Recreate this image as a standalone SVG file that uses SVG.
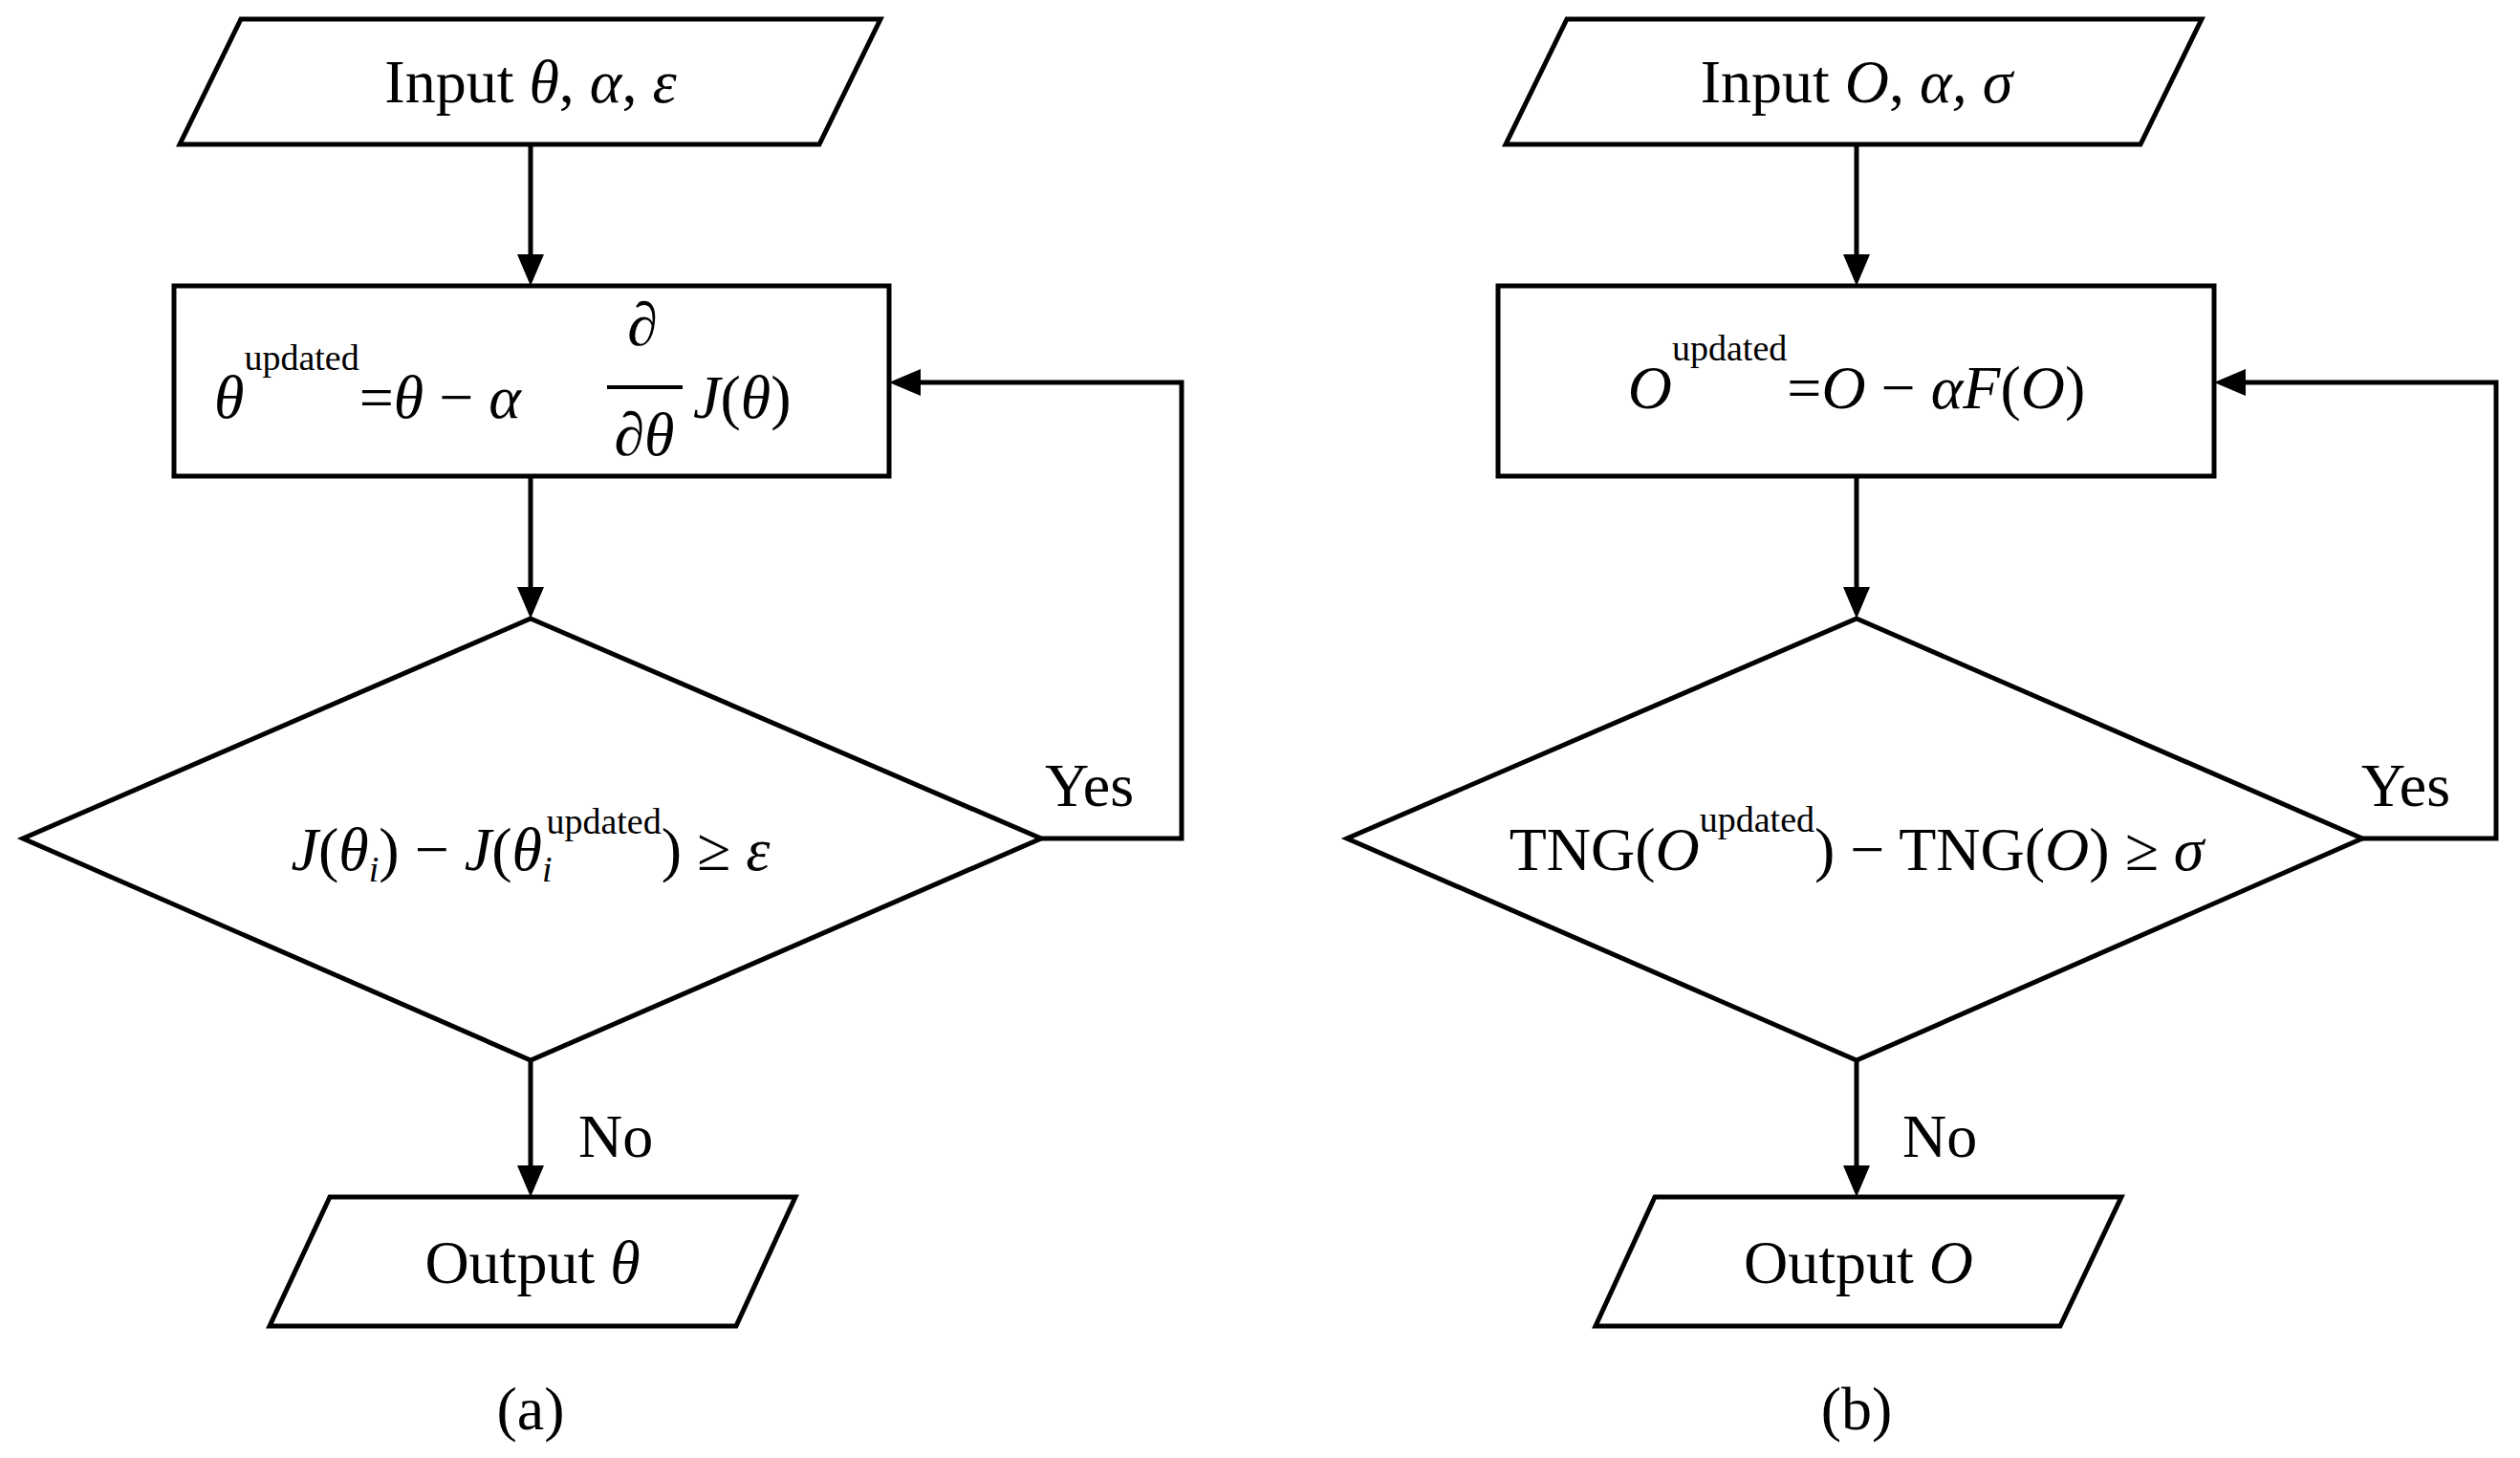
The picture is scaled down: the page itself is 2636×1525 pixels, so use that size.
<svg xmlns="http://www.w3.org/2000/svg" width="2636" height="1525" viewBox="0 0 2636 1525">
<defs>
<style>
.s{fill:#fff;stroke:#000;stroke-width:5}
.c{fill:none;stroke:#000;stroke-width:5}
text{font-family:"Liberation Serif","Times New Roman",serif;font-size:64px;fill:#000}
.i{font-style:italic}
.m{text-anchor:middle}
.sup{font-size:38px}
</style>
</defs>
<rect width="2636" height="1525" fill="#fff"/>
<g id="connectors">
<path class="c" d="M555,151 V266"/><polygon points="541,266 569,266 555,299"/>
<path class="c" d="M555,498 V614"/><polygon points="541,614 569,614 555,647"/>
<path class="c" d="M555,1109 V1219"/><polygon points="541,1219 569,1219 555,1252"/>
<path class="c" d="M1089,877 H1236 V400 H963"/><polygon points="963,386 963,414 930,400"/>
<path class="c" d="M1942,151 V266"/><polygon points="1928,266 1956,266 1942,299"/>
<path class="c" d="M1942,498 V614"/><polygon points="1928,614 1956,614 1942,647"/>
<path class="c" d="M1942,1109 V1219"/><polygon points="1928,1219 1956,1219 1942,1252"/>
<path class="c" d="M2471,877 H2611 V400 H2349"/><polygon points="2349,386 2349,414 2316,400"/>
<text x="1093" y="843">Yes</text><text x="605" y="1210">No</text>
<text x="2470" y="843">Yes</text><text x="1990" y="1210">No</text>
</g>
<g id="inA"><polygon class="s" points="252,20 921,20 857,151 188,151"/>
<text class="m" x="555" y="107">Input <tspan class="i">θ</tspan>, <tspan class="i">α</tspan>, <tspan class="i">ε</tspan></text></g>
<g id="updA"><rect class="s" x="182" y="299" width="748" height="199"/>
<text x="224" y="437"><tspan class="i">θ</tspan><tspan class="sup" dy="-50">updated</tspan><tspan dy="50">=</tspan><tspan class="i">θ</tspan> − <tspan class="i">α</tspan></text>
<text class="i m" x="672" y="361">∂</text>
<line x1="635" y1="405" x2="714" y2="405" stroke="#000" stroke-width="4"/>
<text class="i m" x="674" y="476">∂θ</text>
<text x="725" y="437"><tspan class="i">J</tspan>(<tspan class="i">θ</tspan>)</text></g>
<g id="decA"><polygon class="s" points="555,647 1089,877 555,1109 24,877"/>
<text class="m" x="555" y="910"><tspan class="i">J</tspan>(<tspan class="i">θ</tspan><tspan class="i sup" dy="12">i</tspan><tspan dy="-12">) − </tspan><tspan class="i">J</tspan>(<tspan class="i">θ</tspan><tspan class="i sup" dy="12">i</tspan><tspan class="sup" dx="-6" dy="-50">updated</tspan><tspan dy="38">) ≥ </tspan><tspan class="i">ε</tspan></text></g>
<g id="outA"><polygon class="s" points="345,1252 832,1252 770,1387 282,1387"/>
<text class="m" x="557" y="1342">Output <tspan class="i">θ</tspan></text></g>
<text class="m" x="555" y="1495">(a)</text>
<g id="inB"><polygon class="s" points="1639,20 2303,20 2239,151 1575,151"/>
<text class="m" x="1942" y="107">Input <tspan class="i">O</tspan>, <tspan class="i">α, σ</tspan></text></g>
<g id="updB"><rect class="s" x="1567" y="299" width="749" height="199"/>
<text class="m" x="1942" y="427"><tspan class="i">O</tspan><tspan class="sup" dy="-50">updated</tspan><tspan dy="50">=</tspan><tspan class="i">O</tspan> − <tspan class="i">αF</tspan>(<tspan class="i">O</tspan>)</text></g>
<g id="decB"><polygon class="s" points="1942,647 2471,877 1942,1109 1409,877"/>
<text class="m" x="1942" y="910">TNG(<tspan class="i">O</tspan><tspan class="sup" dy="-40">updated</tspan><tspan dy="40">) − TNG(</tspan><tspan class="i">O</tspan>) ≥ <tspan class="i">σ</tspan></text></g>
<g id="outB"><polygon class="s" points="1731,1252 2219,1252 2155,1387 1669,1387"/>
<text class="m" x="1944" y="1342">Output <tspan class="i">O</tspan></text></g>
<text class="m" x="1942" y="1495">(b)</text>
</svg>
